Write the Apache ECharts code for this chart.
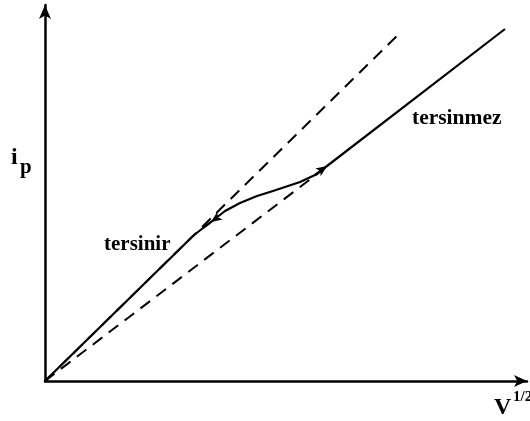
<!DOCTYPE html>
<html><head><meta charset="utf-8">
<script src="https://cdn.jsdelivr.net/npm/echarts@6/dist/echarts.min.js"></script>
<style>html,body{margin:0;padding:0;background:#fff}#c{width:530px;height:421px}</style>
</head><body><div id="c"></div>
<script>
// values in arbitrary units (x ~ V^1/2, y ~ ip)
var solidX = [0, 148, 158, 166, 180, 195, 212, 228, 255, 270, 282, 460];
var solidY = [0, 145, 153, 159, 170, 178, 185, 190, 199, 206, 215, 352];
var steepX = [0, 356];
var steepY = [0, 349];
var shallowX = [0, 280];
var shallowY = [0, 213];
var arrowIdx = [3, 10];
var arrowRot = [125, -55];
var labelTersinir = 'tersinir';
var labelTersinmez = 'tersinmez';

function pts(xs, ys){ return xs.map(function(x,i){ return [x, ys[i]]; }); }
var solidData = solidX.map(function(x,i){
  var k = arrowIdx.indexOf(i);
  if (k >= 0) return {value:[x, solidY[i]], symbol:'arrow', symbolSize:[7,11], symbolRotate:arrowRot[k]};
  return {value:[x, solidY[i]], symbol:'none'};
});

var chart = echarts.init(document.getElementById('c'));
var serif = '"Liberation Serif","DejaVu Serif",serif';
chart.setOption({
  animation:false,
  grid:{left:45, right:3, top:5, bottom:40},
  xAxis:{type:'value', min:0, max:482,
    axisLine:{lineStyle:{color:'#000', width:2.5}, symbol:['none','arrow'], symbolSize:[9,13]},
    axisTick:{show:false}, axisLabel:{show:false}, splitLine:{show:false}},
  yAxis:{type:'value', min:0, max:376,
    axisLine:{lineStyle:{color:'#000', width:2.5}, symbol:['none','arrow'], symbolSize:[9,14]},
    axisTick:{show:false}, axisLabel:{show:false}, splitLine:{show:false}},
  series:[
    {type:'line', data:solidData, showSymbol:true, symbol:'none',
      itemStyle:{color:'#000'}, lineStyle:{color:'#000', width:2.2, join:'round'}, z:3},
    {type:'line', data:pts(steepX, steepY), symbol:'none',
      lineStyle:{color:'#000', width:2, type:[12,8]}},
    {type:'line', data:pts(shallowX, shallowY), symbol:'none',
      lineStyle:{color:'#000', width:2, type:[12,8]}}
  ],
  graphic:[
    {type:'text', left:104, top:234, style:{text:labelTersinir, font:'bold 21px '+serif, fill:'#000'}},
    {type:'text', left:412, top:107, style:{text:labelTersinmez, font:'bold 21.5px '+serif, fill:'#000'}},
    {type:'text', left:11, top:146, style:{text:'i', font:'bold 24px '+serif, fill:'#000'}},
    {type:'text', left:20, top:157, style:{text:'p', font:'bold 21px '+serif, fill:'#000'}},
    {type:'text', left:494, top:396, style:{text:'V', font:'bold 24px '+serif, fill:'#000'}},
    {type:'text', left:513, top:390, style:{text:'1/2', font:'bold 15px '+serif, fill:'#000'}}
  ]
});
</script></body></html>
